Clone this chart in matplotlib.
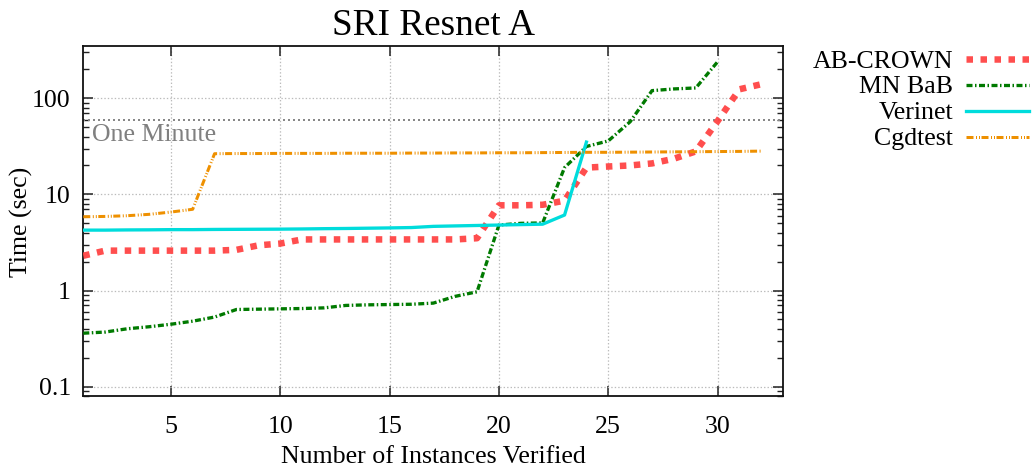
import matplotlib
matplotlib.use("Agg")
import matplotlib.pyplot as plt
from matplotlib.lines import Line2D
from matplotlib.ticker import FixedLocator, NullFormatter

plt.rcParams['font.family'] = ['Liberation Serif', 'DejaVu Serif']
plt.rcParams['lines.scale_dashes'] = False

# ---------------- data ----------------
title = "SRI Resnet A"
x_label = "Number of Instances Verified"
y_label = "Time (sec)"
series_names = ["AB-CROWN", "MN BaB", "Verinet", "Cgdtest"]

ab_crown = [2.3, 2.6, 2.6, 2.6, 2.6, 2.6, 2.6, 2.65, 2.95, 3.08, 3.4, 3.4, 3.4,
            3.4, 3.4, 3.4, 3.4, 3.4, 3.5, 7.7, 7.7, 7.8, 8.6, 19.0, 19.5, 20.0,
            21.0, 23.5, 28.0, 58.0, 124.0, 140.0]
mn_bab = [0.36, 0.37, 0.40, 0.42, 0.446, 0.48, 0.53, 0.635, 0.64, 0.645, 0.65,
          0.66, 0.70, 0.71, 0.715, 0.72, 0.74, 0.87, 0.97, 4.8, 5.0, 5.05, 19.0,
          31.5, 36.0, 57.0, 120.0, 125.0, 128.0, 240.0]
verinet = [4.25, 4.25, 4.27, 4.28, 4.3, 4.3, 4.32, 4.33, 4.34, 4.35, 4.37, 4.4,
           4.42, 4.45, 4.48, 4.52, 4.65, 4.7, 4.75, 4.8, 4.85, 4.9, 6.1, 35.0]
cgdtest = [5.85, 5.9, 6.0, 6.2, 6.55, 7.0, 26.5, 26.6, 26.6, 26.7, 26.7, 26.7,
           26.8, 26.8, 26.8, 26.9, 26.9, 27.0, 27.0, 27.1, 27.1, 27.2, 27.3,
           27.4, 27.4, 27.5, 27.6, 27.7, 27.8, 27.9, 28.0, 28.2]
one_minute = 60
one_minute_label = "One Minute"
x_ticks = [5, 10, 15, 20, 25, 30]
y_ticks = [0.1, 1, 10, 100]
y_tick_labels = ["0.1", "1", "10", "100"]

# ---------------- styles ----------------
PT = 72 / 100.0  # points per pixel at dpi 100
styles = [
    dict(color='#ff4444', lw=6.5 * PT, dashes=(6.5 * PT, 7.5 * PT), dash_capstyle='butt', alpha=0.95),
    dict(color='#007a00', lw=3.3 * PT, dashes=(6 * PT, 2.5 * PT, 1.5 * PT, 2.5 * PT), dash_capstyle='butt'),
    dict(color='#00dcdc', lw=3.3 * PT, linestyle='-'),
    dict(color='#ee9000', lw=3.0 * PT, dashes=(7 * PT, 2.5 * PT, 1 * PT, 2 * PT, 1 * PT, 1.5 * PT), dash_capstyle='butt'),
]

FS = 18.6
W, H = 1033, 470
fig = plt.figure(figsize=(W / 100, H / 100), dpi=100)
ax_l, ax_r, ax_t, ax_b = 83.3, 783.3, 45.7, 396.0
ax = fig.add_axes([ax_l / W, 1 - ax_b / H, (ax_r - ax_l) / W, (ax_b - ax_t) / H])

all_series = [ab_crown, mn_bab, verinet, cgdtest]
for vals, st in zip(all_series, styles):
    xs = list(range(1, len(vals) + 1))
    ax.plot(xs, vals, **st, zorder=3)

ax.set_yscale('log')
ax.set_xlim(1, 33)
ax.set_ylim(0.08, 352)

# one minute reference
ax.axhline(one_minute, color='#888888', lw=2 * PT, dashes=(2 * PT, 3 * PT), zorder=2)
ax.text(1.42, 54.5, one_minute_label, color='#808080', fontsize=FS, va='top', ha='left')

# ticks
ax.xaxis.set_major_locator(FixedLocator(x_ticks))
ax.set_xticklabels([str(t) for t in x_ticks])
ax.yaxis.set_major_locator(FixedLocator(y_ticks))
ax.set_yticklabels(y_tick_labels)
minor = [m * 10.0 ** e for e in range(-2, 3) for m in range(2, 10)]
ax.yaxis.set_minor_locator(FixedLocator(minor))
ax.yaxis.set_minor_formatter(NullFormatter())
ax.xaxis.set_minor_locator(FixedLocator([]))
ax.tick_params(axis='both', which='major', direction='in', length=7, width=1.1,
               top=True, right=True, labelsize=FS, color='#222222')
ax.tick_params(axis='both', which='minor', direction='in', length=4, width=1.0,
               top=True, right=True, color='#222222')
ax.tick_params(axis='x', which='major', pad=14.5)
ax.tick_params(axis='y', which='major', pad=9)
for s in ax.spines.values():
    s.set_linewidth(1.3)
    s.set_color('#111111')

ax.grid(True, which='major', color='#bbbbbb', lw=0.9, dashes=(1, 1.5), zorder=1)

ax.set_title(title, fontsize=26.8, pad=8)
ax.set_xlabel(x_label, fontsize=FS)
ax.xaxis.set_label_coords(((279 + 588) / 2 - ax_l) / (ax_r - ax_l), -(463 - ax_b) / (ax_b - ax_t))
ax.xaxis.label.set_va('baseline')
ax.set_ylabel(y_label, fontsize=FS)
ax.yaxis.label.set_va('center')
ax.yaxis.set_label_coords(-(83.3 - 21) / (ax_r - ax_l), (ax_b - 222) / (ax_b - ax_t))

# legend (gnuplot style: right-aligned text, sample on the right)
rows_y = [59, 84.5, 110.5, 136.7]
for name, st, yy in zip(series_names, styles, rows_y):
    fig.text(953 / W, 1 - (yy + 8.5) / H, name, ha='right', va='baseline', fontsize=FS)
    ln = Line2D([966 / W, 1029 / W], [1 - yy / H, 1 - yy / H], transform=fig.transFigure, **st)
    fig.add_artist(ln)

fig.savefig("out.png", dpi=100)
